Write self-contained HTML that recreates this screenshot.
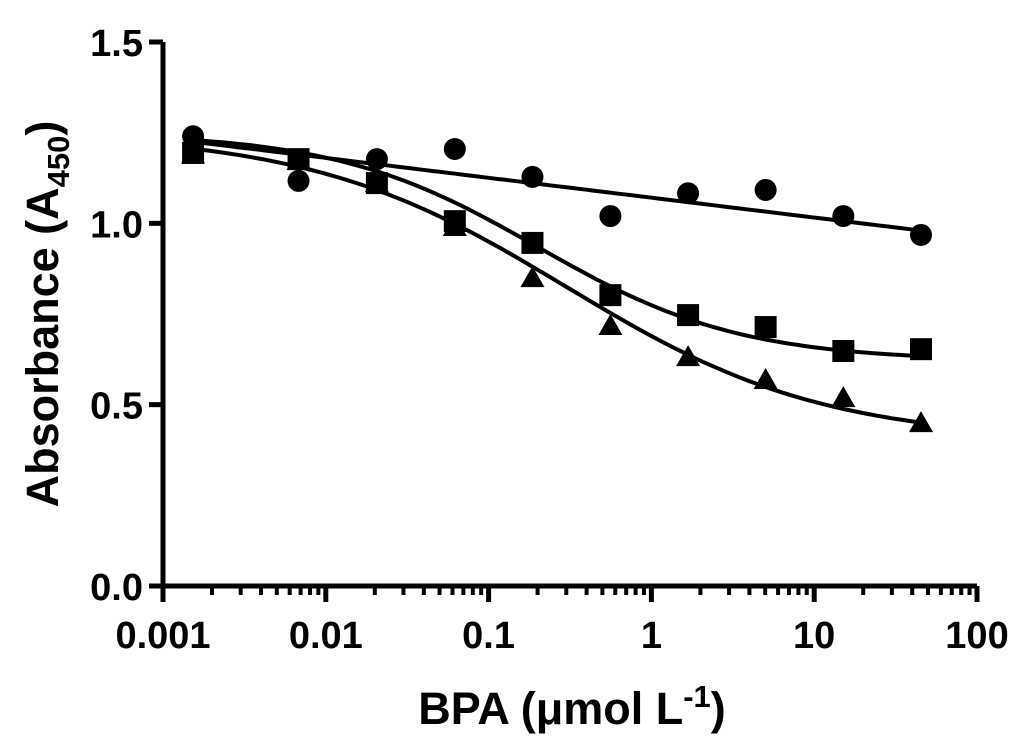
<!DOCTYPE html>
<html><head><meta charset="utf-8"><style>
body{margin:0;background:#fff}
svg text{font-family:"Liberation Sans",Arial,sans-serif;font-weight:bold;fill:#000}
</style></head><body>
<svg id="chart" width="1024" height="744" viewBox="0 0 1024 744" xmlns="http://www.w3.org/2000/svg"></svg>
<script>
const xValues=[0.00153,0.0068,0.0206,0.062,0.186,0.56,1.68,5.03,15.1,45.3];
const circleValues=[1.24,1.117,1.177,1.205,1.128,1.02,1.083,1.092,1.02,0.968];
const squareValues=[1.194,1.177,1.111,1.006,0.946,0.802,0.747,0.714,0.648,0.653];
const triangleValues=[1.19,1.172,1.111,0.99,0.849,0.717,0.631,0.568,0.518,0.449];
const yTicks=[0,0.5,1.0,1.5];
const yTickLabels=["0.0","0.5","1.0","1.5"];
const xTicks=[0.001,0.01,0.1,1,10,100];
const xTickLabels=["0.001","0.01","0.1","1","10","100"];
const circleFit=[1.225,0.98];
const squareFit=[1.25,0.62,0.2,0.7];
const triangleFit=[1.25,0.40,0.3,0.55];

const NS="http://www.w3.org/2000/svg";
const svg=document.getElementById('chart');
const X0=163,X1=977,Y0=586,Y1=42;
const xs=v=>X0+(Math.log10(v)+3)/5*(X1-X0);
const ys=v=>Y0-v/1.5*(Y0-Y1);
function el(t,a,p){const e=document.createElementNS(NS,t);for(const k in a)e.setAttribute(k,a[k]);(p||svg).appendChild(e);return e;}

let ax=el('path',{d:`M${X0},${Y1} V${Y0} H${X1}`,stroke:'#000','stroke-width':5,fill:'none'});


yTicks.forEach((v,i)=>{
  let t=el('line',{x1:X0-14,x2:X0,y1:ys(v),y2:ys(v),stroke:'#000','stroke-width':5});
  
  
  let l=el('text',{x:X0-20,y:ys(v)+14,'text-anchor':'end','font-size':38});
  l.textContent=yTickLabels[i];
  
  
});
xTicks.forEach((v,i)=>{
  let t=el('line',{x1:xs(v),x2:xs(v),y1:Y0,y2:Y0+16,stroke:'#000','stroke-width':5});
  
  
  let l=el('text',{x:xs(v),y:648,'text-anchor':'middle','font-size':38});
  l.textContent=xTickLabels[i];
  
  
  if(i<xTicks.length-1)for(let m=2;m<10;m++){
    let mt=el('line',{x1:xs(v*m),x2:xs(v*m),y1:Y0,y2:Y0+9,stroke:'#000','stroke-width':4});
    
    
  }
});
let yt=el('text',{transform:`translate(58,${(Y0+Y1)/2}) rotate(-90)`,'text-anchor':'middle','font-size':45});
yt.innerHTML='Absorbance (A<tspan font-size="31" dy="11">450</tspan><tspan dy="-11">)</tspan>';


let xt=el('text',{x:572,y:724,'text-anchor':'middle','font-size':45});
xt.innerHTML='BPA (μmol L<tspan font-size="31" dy="-17">-1</tspan><tspan dy="17">)</tspan>';



function curve(f,name){
  let d='';const a=Math.log10(xValues[0]),b=Math.log10(xValues[xValues.length-1]);
  for(let i=0;i<=100;i++){const lx=a+(b-a)*i/100,x=Math.pow(10,lx);d+=(i?'L':'M')+xs(x).toFixed(1)+','+ys(f(x,(lx-a)/(b-a))).toFixed(1);}
  let p=el('path',{d,stroke:'#000','stroke-width':4,fill:'none'});
  
  
}
curve((x,t)=>circleFit[0]+(circleFit[1]-circleFit[0])*t,'circle-fit-line');
const fp=p=>x=>p[1]+(p[0]-p[1])/(1+Math.pow(x/p[2],p[3]));
curve(fp(squareFit),'square-fit-line');
curve(fp(triangleFit),'triangle-fit-line');

xValues.forEach((x,i)=>{
  let c=el('circle',{cx:xs(x),cy:ys(circleValues[i]),r:11,fill:'#000'});
  
  
  let s=el('rect',{x:xs(x)-11,y:ys(squareValues[i])-11,width:22,height:22,fill:'#000'});
  
  
  const tx=xs(x),ty=ys(triangleValues[i]);
  let t=el('polygon',{points:`${tx},${ty-12} ${tx+12},${ty+9} ${tx-12},${ty+9}`,fill:'#000'});
  
  
});
</script>
</body></html>
